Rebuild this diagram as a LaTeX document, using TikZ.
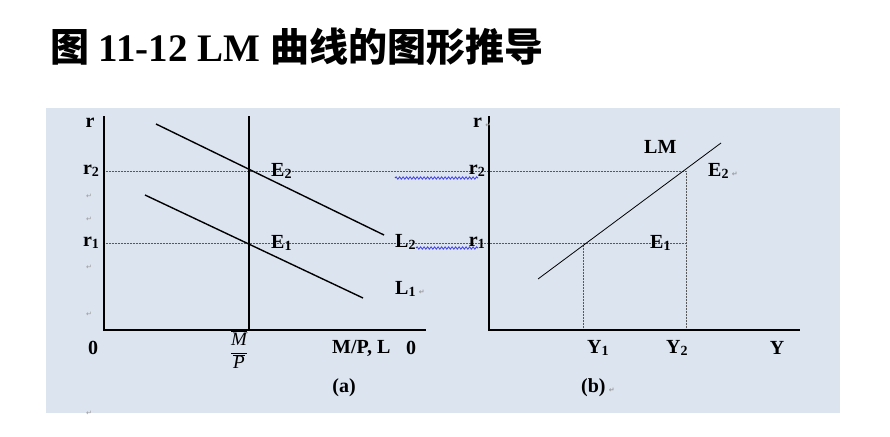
\documentclass[tikz,border=0pt]{standalone}
\usepackage{fontspec}
\setmainfont{Liberation Serif}
\newfontfamily\cjk{Noto Sans CJK SC}
\newfontfamily\symfont{DejaVu Sans}
\usetikzlibrary{decorations.pathmorphing}
\definecolor{panelbg}{RGB}{220,228,240}
\definecolor{spellblue}{RGB}{60,60,235}
\newcommand\lblfont{\fontsize{20}{22}\selectfont\bfseries}
\newcommand\low[1]{\raisebox{-0.25ex}{\fontsize{14}{15}\selectfont #1}}
\newcommand\ret{{\symfont\fontsize{7}{8}\selectfont\color{gray!80}↵}}
\begin{document}
\begin{tikzpicture}[x=1pt,y=-1pt,
    lbl/.style={font=\lblfont, inner sep=0pt},
    guide/.style={densely dotted, gray!70!black, line width=0.5pt},
    curve/.style={line width=1.4pt},
    axis/.style={line width=1.7pt},
    wavy/.style={spellblue, line width=0.8pt, decorate,
        decoration={snake, amplitude=1.2pt, segment length=3.5pt}}]
    \useasboundingbox (0,0) rectangle (890,436);
    % Title
    \node[anchor=west, inner sep=0pt, font=\fontsize{39}{41}\selectfont\bfseries] (title) at (50,47)
        {{\cjk 图} 11-12 LM {\cjk 曲线的图形推导}};
    % Background
    \fill[panelbg] (46,108) rectangle (840,413);

    % Key points
    \coordinate (E2a) at (249,171);
    \coordinate (E1a) at (249,243);
    \coordinate (E2b) at (686,171);
    \coordinate (E1b) at (583,243);
    \coordinate (r2a) at (104,171);
    \coordinate (r1a) at (104,243);
    \coordinate (Y1) at (583,330);
    \coordinate (Y2) at (686,330);

    % Guide lines
    \draw[guide] (r2a) -- (E2b);
    \draw[guide] (r1a) -- (686,243);
    \draw[guide] (E1b) -- (Y1);
    \draw[guide] (E2b) -- (Y2);

    % Panel (a)
    \draw[axis] (104,116) -- (104,330) -- (426,330);
    \draw[line width=1.5pt] (249,116) -- (249,330);
    \draw[curve] (156,124) -- (384,235);
    \draw[curve] (145,195) -- (363,298);

    % Panel (b)
    \draw[axis] (489,116) -- (489,330) -- (800,330);
    \draw[line width=0.8pt] (538,279) -- (721,143);

    % Spell-check marks
    \draw[wavy] (395,178) -- (478,178);
    \draw[wavy] (416,248) -- (478,248);

    % Labels of panel (a)
    \node[lbl] (ra) at (90,123) {r};
    \node[lbl] (r2l) at (91,171) {r\low{2}};
    \node[lbl] (r1l) at (91,243) {r\low{1}};
    \node[lbl, anchor=west] (E2l) at (271,171) {E\low{2}};
    \node[lbl, anchor=west] (E1l) at (271,243) {E\low{1}};
    \node[lbl, anchor=west] (L2l) at (395,242) {L\low{2}};
    \node[lbl, anchor=west] (L1l) at (395,289) {L\low{1}\,\ret};
    \node[lbl] (Oa) at (93,348) {0};
    \node[inner sep=0pt, font=\fontsize{19}{21}\selectfont] (MP) at (239,350)
        {$\displaystyle\frac{\overline{\textit{M}}}{\overline{\textit{P}}}$};
    \node[lbl, anchor=west] (xa) at (332,348) {M/P, L};
    \node[lbl] (Ob) at (411,348) {0};
    \node[lbl] (pa) at (344,388) {(a)};
    % Paragraph marks
    \foreach \y in {196,219,267,314,413} {
        \node[inner sep=0pt] at (89,\y) {\ret};
    }

    % Labels of panel (b)
    \node[lbl, anchor=west] (rb) at (473,123) {r\,\ret};
    \node[lbl, anchor=east] (r2r) at (485,171) {r\low{2}};
    \node[lbl, anchor=east] (r1r) at (485,243) {r\low{1}};
    \node[lbl, anchor=west] (LMl) at (644,147) {LM};
    \node[lbl, anchor=west] (E2r) at (708,171) {E\low{2}\,\ret};
    \node[lbl, anchor=west] (E1r) at (650,243) {E\low{1}};
    \node[lbl, anchor=west] (Y1l) at (587,348) {Y\low{1}};
    \node[lbl, anchor=west] (Y2l) at (666,348) {Y\low{2}};
    \node[lbl] (Yl) at (777,348) {Y};
    \node[lbl, anchor=west] (pb) at (581,388) {(b)\,\ret};
\end{tikzpicture}
\end{document}
